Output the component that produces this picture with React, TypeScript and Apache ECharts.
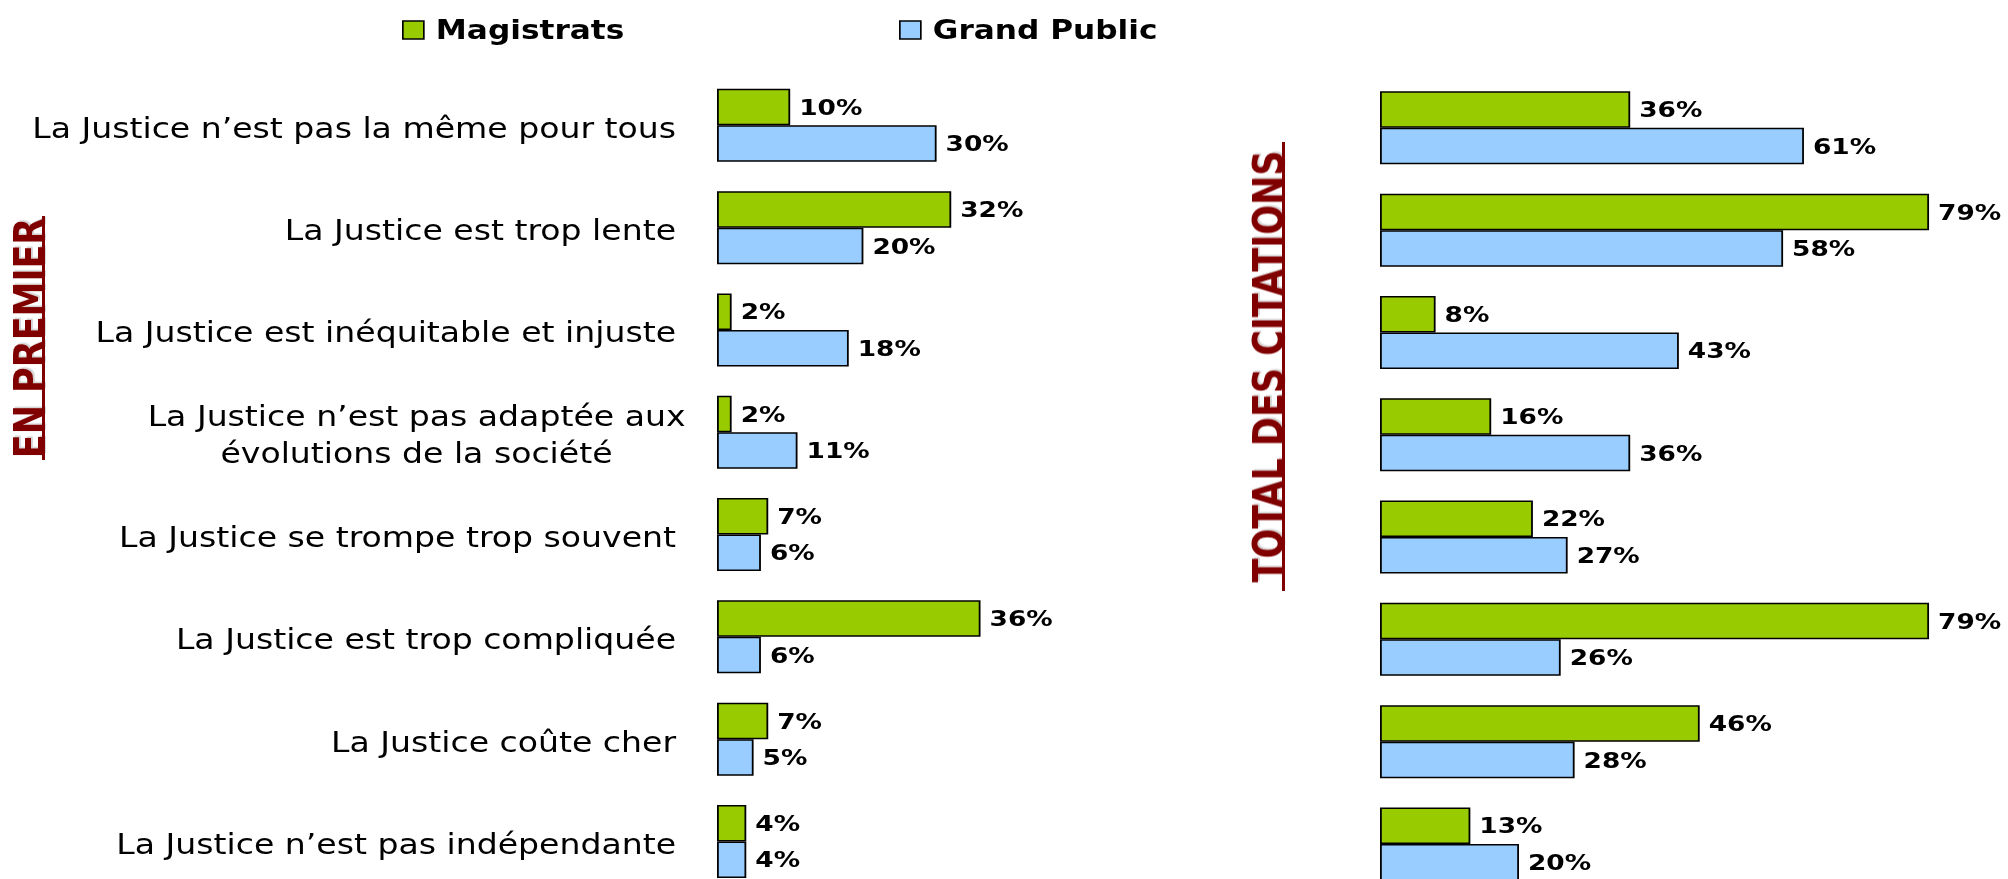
import React, { useEffect, useRef } from "react";
import * as echarts from "echarts";

const categories = [
  "La Justice n’est pas la même pour tous",
  "La Justice est trop lente",
  "La Justice est inéquitable et injuste",
  "La Justice n’est pas adaptée aux\névolutions de la société",
  "La Justice se trompe trop souvent",
  "La Justice est trop compliquée",
  "La Justice coûte cher",
  "La Justice n’est pas indépendante",
];
const seriesNames = ["Magistrats", "Grand Public"];
const premierMagistrats = [10, 32, 2, 2, 7, 36, 7, 4];
const premierPublic = [30, 20, 18, 11, 6, 6, 5, 4];
const totalMagistrats = [36, 79, 8, 16, 22, 79, 46, 13];
const totalPublic = [61, 58, 43, 36, 27, 26, 28, 20];
const leftTitle = "EN PREMIER";
const rightTitle = "TOTAL DES CITATIONS";

const FONT = "'DejaVu Sans', Verdana, sans-serif";
const GREEN = "#99CC00";
const BLUE = "#99CCFF";
const DARKRED = "#800000";

// the reference is a horizontally stretched rendering; reproduce with scaleX
const SX = 1.2;
const PAGE_W = 2008;
const PAGE_H = 879;
const px = (v: number) => v / SX;

export default function App() {
  const ref = useRef<HTMLDivElement>(null);
  useEffect(() => {
    if (!ref.current) return;
    const chart = echarts.init(ref.current, null, { renderer: "svg" });
    const barW = 36.5;
    const bandH = 102.3;
    const label = {
      show: true,
      position: "right" as const,
      distance: px(9),
      formatter: "{c}%",
      fontFamily: FONT,
      fontWeight: "bold" as const,
      fontSize: 22,
      color: "#000",
    };
    const mkSeries = (name: string, data: number[], idx: number, color: string) => ({
      name,
      type: "bar",
      xAxisIndex: idx,
      yAxisIndex: idx,
      data,
      barWidth: barW,
      barGap: "0%",
      itemStyle: { color, borderColor: "#000", borderWidth: 1.5 },
      label,
    });
    const legendCommon = {
      top: 12,
      icon: "rect",
      itemWidth: px(21),
      itemHeight: 18,
      itemStyle: { borderColor: "#000", borderWidth: 1.4 },
      textStyle: { fontFamily: FONT, fontWeight: "bold", fontSize: 26, color: "#000", padding: [0, 0, 0, px(6)] },
    };
    const titleStyle = {
      fontFamily: FONT,
      fontWeight: "bold",
      fontSize: 35,
      fill: DARKRED,
      align: "center",
      verticalAlign: "middle",
      textShadowColor: "rgba(0,0,0,0.18)",
      textShadowOffsetX: 1.5,
      textShadowOffsetY: 1.5,
      textShadowBlur: 1,
    };
    const catFont = { fontFamily: FONT, fontSize: 27.6, color: "#000", lineHeight: 37 };
    chart.setOption({
      animation: false,
      backgroundColor: "#fff",
      textStyle: { fontFamily: FONT },
      legend: [
        { ...legendCommon, data: [seriesNames[0]], left: px(396) },
        { ...legendCommon, data: [seriesNames[1]], left: px(893) },
      ],
      grid: [
        { left: px(717), top: 74.2, width: px(292.8), height: bandH * 8 },
        { left: px(1380), top: 76.7, width: px(556), height: bandH * 8 },
      ],
      xAxis: [
        { type: "value", gridIndex: 0, min: 0, max: 40, show: false },
        { type: "value", gridIndex: 1, min: 0, max: 80, show: false },
      ],
      yAxis: [
        {
          type: "category",
          gridIndex: 0,
          data: categories,
          inverse: true,
          axisLine: { show: false },
          axisTick: { show: false },
          splitLine: { show: false },
          axisLabel: {
            margin: px(31.5),
            interval: 0,
            padding: [6, 0, 0, 0],
            formatter: (v: string) => {
              const parts = v.split("\n");
              if (parts.length > 1) return `{a|${parts[0]}}\n{c|${parts[1]}}`;
              return `{b|${v}}`;
            },
            rich: {
              a: { ...catFont },
              b: { ...catFont, padding: [0, px(9.5), 0, 0] },
              c: { ...catFont, align: "center" },
            },
          },
        },
        {
          type: "category",
          gridIndex: 1,
          data: categories,
          inverse: true,
          show: false,
        },
      ],
      series: [
        mkSeries(seriesNames[0], premierMagistrats, 0, GREEN),
        mkSeries(seriesNames[1], premierPublic, 0, BLUE),
        mkSeries(seriesNames[0], totalMagistrats, 1, GREEN),
        mkSeries(seriesNames[1], totalPublic, 1, BLUE),
      ],
      graphic: [
        {
          type: "text",
          x: px(29),
          y: 338,
          rotation: Math.PI / 2,
          style: { ...titleStyle, text: leftTitle },
        },
        {
          type: "line",
          shape: { x1: px(43.5), y1: 216, x2: px(43.5), y2: 460 },
          style: { stroke: DARKRED, lineWidth: 2.5 },
        },
        {
          type: "text",
          x: px(1268),
          y: 366.5,
          rotation: Math.PI / 2,
          style: { ...titleStyle, text: rightTitle },
        },
        {
          type: "line",
          shape: { x1: px(1283.5), y1: 142, x2: px(1283.5), y2: 591 },
          style: { stroke: DARKRED, lineWidth: 2.5 },
        },
      ],
    });
    return () => chart.dispose();
  }, []);
  return (
    <div
      style={{
        position: "absolute",
        left: 0,
        top: 0,
        width: PAGE_W,
        height: PAGE_H,
        overflow: "hidden",
        background: "#fff",
      }}
    >
      <div
        ref={ref}
        style={{
          width: PAGE_W / SX,
          height: 910,
          transform: `scaleX(${SX})`,
          transformOrigin: "0 0",
        }}
      />
    </div>
  );
}
